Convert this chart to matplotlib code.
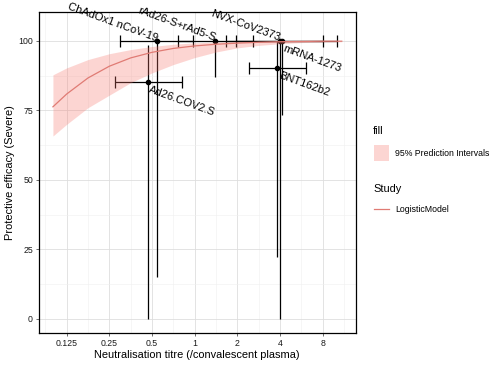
import matplotlib
matplotlib.use("Agg")
import matplotlib.pyplot as plt
from matplotlib.patches import Rectangle
from matplotlib.lines import Line2D

plt.rcParams['font.family'] = ['Liberation Sans', 'DejaVu Sans']

# study estimates (titre relative to convalescent plasma, efficacy %)
studies = ["ChAdOx1 nCoV-19", "rAd26-S+rAd5-S", "NVX-CoV2373",
           "mRNA-1273", "BNT162b2", "Ad26.COV2.S"]
titre = [0.54, 1.40, 3.97, 4.10, 3.83, 0.466]
titre_lo = [0.297, 0.766, 1.96, 1.66, 2.42, 0.274]
titre_hi = [0.977, 2.56, 8.07, 10.1, 6.07, 0.81]
efficacy = [100, 100, 100, 100, 90.2, 85.3]
eff_lo = [15, 87, 0, 73.4, 22.4, 0]
eff_hi = [100, 100, 100, 100, 100, 98.6]

# logistic model fit and 95% prediction interval
model_titre = [0.1, 0.125, 0.177, 0.25, 0.354, 0.5, 0.707, 1, 1.41,
               2, 2.83, 4, 5.66, 8, 10.9]
model_eff = [76.3, 80.9, 86.7, 90.9, 93.9, 95.9, 97.3, 98.2, 98.8,
             99.2, 99.5, 99.7, 99.8, 99.9, 99.9]
model_lo = [65.8, 70.0, 76.0, 80.5, 85.0, 88.5, 91.5, 94.0, 96.0,
            97.5, 98.4, 99.0, 99.4, 99.6, 99.7]
model_hi = [87.8, 90.3, 93.3, 95.4, 96.9, 98.0, 98.8, 99.3, 99.6,
            99.8, 99.9, 99.95, 100, 100, 100]

xticks = [0.125, 0.25, 0.5, 1, 2, 4, 8]
xtick_labels = ["0.125", "0.25", "0.5", "1", "2", "4", "8"]
yticks = [0, 25, 50, 75, 100]

labels_above = {"ChAdOx1 nCoV-19", "rAd26-S+rAd5-S", "NVX-CoV2373"}

W, H = 504, 366
fig = plt.figure(figsize=(W / 100, H / 100), dpi=100)
ax = fig.add_axes([38.5 / W, 1 - 333 / H, (356 - 38.5) / W, (333 - 12) / H])

ax.set_xscale('log', base=2)
ax.set_xlim(2 ** -3.66, 2 ** 3.78)
ax.set_ylim(-5.04, 110.4)

# grid
for v in xticks:
    ax.axvline(v, color='#dedede', lw=0.6, zorder=0)
for v in [2 ** (k + 0.5) for k in range(-4, 4)]:
    ax.axvline(v, color='#efefef', lw=0.4, zorder=0)
for v in yticks:
    ax.axhline(v, color='#dedede', lw=0.6, zorder=0)
for v in [12.5, 37.5, 62.5, 87.5]:
    ax.axhline(v, color='#efefef', lw=0.4, zorder=0)

# error bars and points
ax.vlines(titre, eff_lo, eff_hi, color='black', lw=0.9, zorder=2)
xerr = [[t - lo for t, lo in zip(titre, titre_lo)],
        [hi - t for t, hi in zip(titre, titre_hi)]]
ax.errorbar(titre, efficacy, xerr=xerr, fmt='none', ecolor='black',
            elinewidth=0.9, capsize=4, capthick=0.9, zorder=2)
ax.plot(titre, efficacy, 'o', color='black', ms=3, zorder=3)

# model
ax.fill_between(model_titre, model_lo, model_hi, color='#F8766D', alpha=0.3,
                lw=0, zorder=4)
ax.plot(model_titre, model_eff, color='#E07B74', lw=0.9, zorder=5)

# study labels
for name, t, e in zip(studies, titre, efficacy):
    if name in labels_above:
        ax.annotate(name, (t, e), xytext=(-1, -1.5), textcoords='offset points',
                    rotation=-20, rotation_mode='anchor', ha='right', va='bottom',
                    fontsize=8.0, zorder=6, annotation_clip=False)
    else:
        ax.annotate(name, (t, e), xytext=(2.5, -2), textcoords='offset points',
                    rotation=-20, rotation_mode='anchor', ha='left', va='top',
                    fontsize=8.0, zorder=6, annotation_clip=False)

ax.set_xticks(xticks)
ax.set_xticklabels(xtick_labels)
ax.xaxis.set_minor_locator(matplotlib.ticker.NullLocator())
ax.set_yticks(yticks)
ax.tick_params(labelsize=6.3, length=2, width=0.5, color='#333333',
               labelcolor='#1a1a1a', pad=2)
for s in ax.spines.values():
    s.set_color('black')
    s.set_linewidth(0.9)

ax.set_xlabel("Neutralisation titre (/convalescent plasma)", fontsize=7.9, labelpad=2)
ax.set_ylabel("Protective efficacy (Severe)", fontsize=7.9, labelpad=2)

# legends
def fy(p):
    return 1 - p / H

fig.text(373 / W, fy(131), "fill", fontsize=7.9, va='center', ha='left')
fig.add_artist(Rectangle((374 / W, fy(161)), 15 / W, 16 / H,
                         transform=fig.transFigure, color='#F8766D', alpha=0.3, lw=0))
fig.text(395 / W, fy(153), "95% Prediction Intervals", fontsize=6.3, va='center', ha='left')
fig.text(373 / W, fy(189), "Study", fontsize=7.9, va='center', ha='left')
fig.add_artist(Line2D([374 / W, 389 / W], [fy(209), fy(209)],
                      transform=fig.transFigure, color='#E07B74', lw=0.9))
fig.text(395 / W, fy(209), "LogisticModel", fontsize=6.3, va='center', ha='left')

fig.savefig("out.png", dpi=100)
